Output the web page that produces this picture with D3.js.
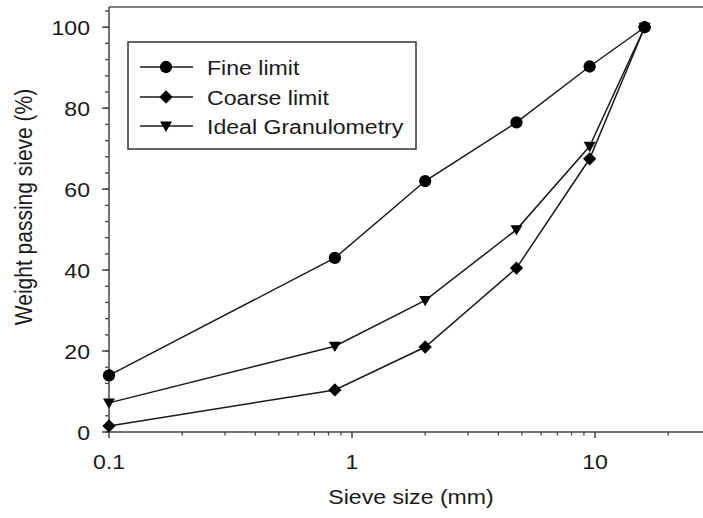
<!DOCTYPE html>
<html>
<head>
<meta charset="utf-8">
<script src="https://cdn.jsdelivr.net/npm/d3@7"></script>
<style>
  html, body { margin: 0; padding: 0; background: #fff; }
  svg { display: block; font-family: "Liberation Sans", Arial, sans-serif; }
</style>
</head>
<body>
<svg id="chart" width="703" height="518"></svg>
<script>
// Sieve sizes (mm) and percentage passing for each grading curve
const sieveSizes = [0.1, 0.85, 2, 4.75, 9.5, 16];
const fineLimit = [14, 43, 62, 76.5, 90.3, 100];
const coarseLimit = [1.5, 10.4, 21, 40.5, 67.5, 100];
const idealGranulometry = [7.2, 21.2, 32.5, 50, 70.6, 100];
const seriesNames = ["Fine limit", "Coarse limit", "Ideal Granulometry"];
const xTickLabels = [0.1, 1, 10];
const yTickLabels = [0, 20, 40, 60, 80, 100];

const svg = d3.select("#chart");
const ink = "#1a1a1a";
const fontSize = 21;
const stretch = 1.1; // glyphs are drawn slightly wide

const plotLeft = 109, plotRight = 711, plotTop = 7, plotBottom = 432;
const x = d3.scaleLog().domain([0.1, 30]).range([plotLeft, plotRight]);
const y = d3.scaleLinear().domain([0, 105]).range([plotBottom, plotTop]);

// Places a wide text label at (tx, ty)
function label(sel, tx, ty, anchor) {
  return sel.attr("transform", `translate(${tx},${ty}) scale(${stretch},1)`)
    .attr("text-anchor", anchor)
    .attr("font-size", fontSize).attr("fill", ink);
}

// Frame top line
svg.append("line")
  .attr("x1", plotLeft).attr("x2", plotRight)
  .attr("y1", plotTop).attr("y2", plotTop)
  .attr("stroke", "#555").attr("stroke-width", 1.5);

// X axis: decade labels with minor ticks in between
const xMinor = [];
[0.1, 1, 10].forEach(d => { for (let k = 2; k <= 9; k++) xMinor.push(d * k); });
const xMinorTicks = xMinor.filter(v => v <= 30);

const gx = svg.append("g").attr("transform", `translate(0,${plotBottom})`);
gx.append("line").attr("x1", plotLeft).attr("x2", plotRight)
  .attr("stroke", "#444").attr("stroke-width", 1.5);
gx.selectAll(".minor").data(xMinorTicks).join("line")
  .attr("x1", d => x(d)).attr("x2", d => x(d))
  .attr("y1", 0).attr("y2", 3.5)
  .attr("stroke", "#444").attr("stroke-width", 1.3);
gx.selectAll(".major").data(xTickLabels).join("line")
  .attr("x1", d => x(d)).attr("x2", d => x(d))
  .attr("y1", 0).attr("y2", 6)
  .attr("stroke", "#444").attr("stroke-width", 1.5);
gx.selectAll("text").data(xTickLabels).join("text")
  .each(function (d) { label(d3.select(this), x(d), 37, "middle"); })
  .text(d => String(d));

// Y axis: labelled majors every 20 with minors every 4
const yMinor = d3.range(0, 105, 4);
const gy = svg.append("g").attr("transform", `translate(${plotLeft},0)`);
gy.append("line").attr("y1", plotTop).attr("y2", plotBottom)
  .attr("stroke", "#444").attr("stroke-width", 1.5);
gy.selectAll(".minor").data(yMinor).join("line")
  .attr("x1", 0).attr("x2", -4)
  .attr("y1", d => y(d)).attr("y2", d => y(d))
  .attr("stroke", "#444").attr("stroke-width", 1.3);
gy.selectAll(".major").data(yTickLabels).join("line")
  .attr("x1", 0).attr("x2", -7)
  .attr("y1", d => y(d)).attr("y2", d => y(d))
  .attr("stroke", "#444").attr("stroke-width", 1.5);
gy.selectAll("text").data(yTickLabels).join("text")
  .each(function (d) { label(d3.select(this), -19, y(d) + 7.5, "end"); })
  .text(d => d);

// Axis titles
label(svg.append("text"), 411, 504, "middle").text("Sieve size (mm)");
svg.append("text")
  .attr("transform", `translate(32,207) rotate(-90) scale(1,${stretch})`)
  .attr("text-anchor", "middle")
  .attr("font-size", fontSize).attr("fill", ink)
  .text("Weight passing sieve (%)");

// Marker shapes: filled circle, diamond (square turned 45°), down triangle
const markers = [
  d3.symbol().type(d3.symbolCircle).size(118),
  d3.symbol().type(d3.symbolSquare).size(88),
  d3.symbol().type(d3.symbolTriangle).size(62)
];
const markerRotate = [0, 45, 180];

const seriesValues = [fineLimit, coarseLimit, idealGranulometry];
const line = d3.line().x(d => x(d[0])).y(d => y(d[1]));

seriesValues.forEach((vals, i) => {
  const pts = sieveSizes.map((s, j) => [s, vals[j]]);
  svg.append("path")
    .attr("d", line(pts))
    .attr("fill", "none").attr("stroke", ink).attr("stroke-width", 1.5);
  svg.append("g").selectAll("path").data(pts).join("path")
    .attr("d", markers[i]())
    .attr("transform", d => `translate(${x(d[0])},${y(d[1]) + (i === 2 ? -1 : 0)}) rotate(${markerRotate[i]})`)
    .attr("fill", "#000");
});

// Legend
const leg = svg.append("g");
leg.append("rect")
  .attr("x", 128).attr("y", 42).attr("width", 288).attr("height", 107)
  .attr("fill", "#fff").attr("stroke", "#333").attr("stroke-width", 1.5);
const rowY = [67, 97, 126];
seriesNames.forEach((name, i) => {
  leg.append("line")
    .attr("x1", 140).attr("x2", 193)
    .attr("y1", rowY[i]).attr("y2", rowY[i])
    .attr("stroke", ink).attr("stroke-width", 1.5);
  leg.append("path")
    .attr("d", markers[i]())
    .attr("transform", `translate(166,${rowY[i] + (i === 2 ? -1 : 0)}) rotate(${markerRotate[i]})`)
    .attr("fill", "#000");
  label(leg.append("text"), 207, rowY[i] + 8, "start").text(name);
});
</script>
</body>
</html>
